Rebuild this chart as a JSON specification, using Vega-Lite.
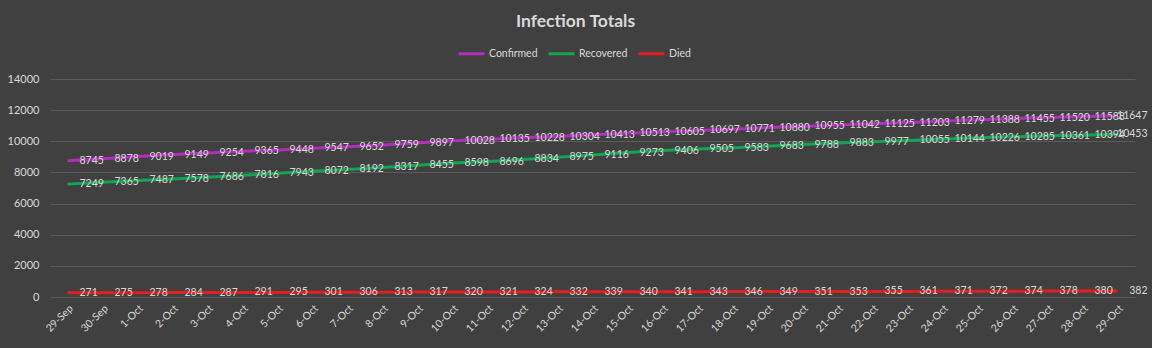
{
  "$schema": "https://vega.github.io/schema/vega-lite/v6.json",
  "width": 1085,
  "height": 218,
  "autosize": {"type": "none"},
  "padding": {"left": 50, "top": 79, "right": 17, "bottom": 51},
  "background": "#404040",
  "title": {"text": "Infection Totals", "anchor": "middle", "offset": 9, "dx": -17, "color": "#d9d9d9", "font": "Lato", "fontSize": 17.5, "fontWeight": "bold"},
  "data": {"values": [
    {"date": "29-Sep", "Confirmed": 8745, "Recovered": 7249, "Died": 271},
    {"date": "30-Sep", "Confirmed": 8878, "Recovered": 7365, "Died": 275},
    {"date": "1-Oct", "Confirmed": 9019, "Recovered": 7487, "Died": 278},
    {"date": "2-Oct", "Confirmed": 9149, "Recovered": 7578, "Died": 284},
    {"date": "3-Oct", "Confirmed": 9254, "Recovered": 7686, "Died": 287},
    {"date": "4-Oct", "Confirmed": 9365, "Recovered": 7816, "Died": 291},
    {"date": "5-Oct", "Confirmed": 9448, "Recovered": 7943, "Died": 295},
    {"date": "6-Oct", "Confirmed": 9547, "Recovered": 8072, "Died": 301},
    {"date": "7-Oct", "Confirmed": 9652, "Recovered": 8192, "Died": 306},
    {"date": "8-Oct", "Confirmed": 9759, "Recovered": 8317, "Died": 313},
    {"date": "9-Oct", "Confirmed": 9897, "Recovered": 8455, "Died": 317},
    {"date": "10-Oct", "Confirmed": 10028, "Recovered": 8598, "Died": 320},
    {"date": "11-Oct", "Confirmed": 10135, "Recovered": 8696, "Died": 321},
    {"date": "12-Oct", "Confirmed": 10228, "Recovered": 8834, "Died": 324},
    {"date": "13-Oct", "Confirmed": 10304, "Recovered": 8975, "Died": 332},
    {"date": "14-Oct", "Confirmed": 10413, "Recovered": 9116, "Died": 339},
    {"date": "15-Oct", "Confirmed": 10513, "Recovered": 9273, "Died": 340},
    {"date": "16-Oct", "Confirmed": 10605, "Recovered": 9406, "Died": 341},
    {"date": "17-Oct", "Confirmed": 10697, "Recovered": 9505, "Died": 343},
    {"date": "18-Oct", "Confirmed": 10771, "Recovered": 9583, "Died": 346},
    {"date": "19-Oct", "Confirmed": 10880, "Recovered": 9683, "Died": 349},
    {"date": "20-Oct", "Confirmed": 10955, "Recovered": 9788, "Died": 351},
    {"date": "21-Oct", "Confirmed": 11042, "Recovered": 9883, "Died": 353},
    {"date": "22-Oct", "Confirmed": 11125, "Recovered": 9977, "Died": 355},
    {"date": "23-Oct", "Confirmed": 11203, "Recovered": 10055, "Died": 361},
    {"date": "24-Oct", "Confirmed": 11279, "Recovered": 10144, "Died": 371},
    {"date": "25-Oct", "Confirmed": 11388, "Recovered": 10226, "Died": 372},
    {"date": "26-Oct", "Confirmed": 11455, "Recovered": 10285, "Died": 374},
    {"date": "27-Oct", "Confirmed": 11520, "Recovered": 10361, "Died": 378},
    {"date": "28-Oct", "Confirmed": 11588, "Recovered": 10394, "Died": 380},
    {"date": "29-Oct", "Confirmed": 11647, "Recovered": 10453, "Died": 382}
  ]},
  "transform": [{"fold": ["Confirmed", "Recovered", "Died"], "as": ["series", "value"]}],
  "encoding": {
    "x": {"field": "date", "type": "ordinal", "sort": null,
      "scale": {"type": "point", "padding": 0.5},
      "axis": {"title": null, "labelAngle": -45, "labelAlign": "right", "labelBaseline": "top", "labelPadding": 6, "domain": false, "ticks": false, "grid": false, "labelColor": "#d9d9d9", "labelFont": "Lato", "labelFontSize": 10.5}},
    "y": {"field": "value", "type": "quantitative",
      "scale": {"domain": [0, 14000], "nice": false},
      "axis": {"title": null, "values": [0, 2000, 4000, 6000, 8000, 10000, 12000, 14000], "format": "d", "domain": false, "ticks": false, "labelPadding": 11, "labelColor": "#d9d9d9", "labelFont": "Lato", "labelFontSize": 11, "gridColor": "#5a5a5a", "gridWidth": 1}}
  },
  "layer": [
    {
      "mark": {"type": "line", "strokeWidth": 3},
      "encoding": {
        "color": {"field": "series", "type": "nominal",
          "scale": {"domain": ["Confirmed", "Recovered", "Died"], "range": ["#b02fbb", "#14a552", "#e41e1e"]},
          "legend": {"title": null, "orient": "none", "legendX": 407, "legendY": -40, "direction": "horizontal", "symbolType": "stroke", "symbolSize": 676, "symbolStrokeWidth": 3, "labelOffset": 3, "columnPadding": 4, "labelColor": "#d9d9d9", "labelFont": "Lato", "labelFontSize": 10.5}}
      }
    },
    {
      "transform": [{"filter": "datum.date != '29-Oct'"}],
      "mark": {"type": "text", "align": "left", "baseline": "middle", "dx": 12, "color": "#d9d9d9", "font": "Lato", "fontSize": 10.5},
      "encoding": {
        "text": {"field": "value", "type": "quantitative", "format": "d"},
        "detail": {"field": "series"}
      }
    },
    {
      "transform": [{"filter": "datum.date == '29-Oct'"}],
      "mark": {"type": "text", "align": "right", "baseline": "middle", "dx": 30, "color": "#d9d9d9", "font": "Lato", "fontSize": 10.5},
      "encoding": {
        "text": {"field": "value", "type": "quantitative", "format": "d"},
        "detail": {"field": "series"}
      }
    }
  ],
  "config": {"view": {"stroke": null}}
}
